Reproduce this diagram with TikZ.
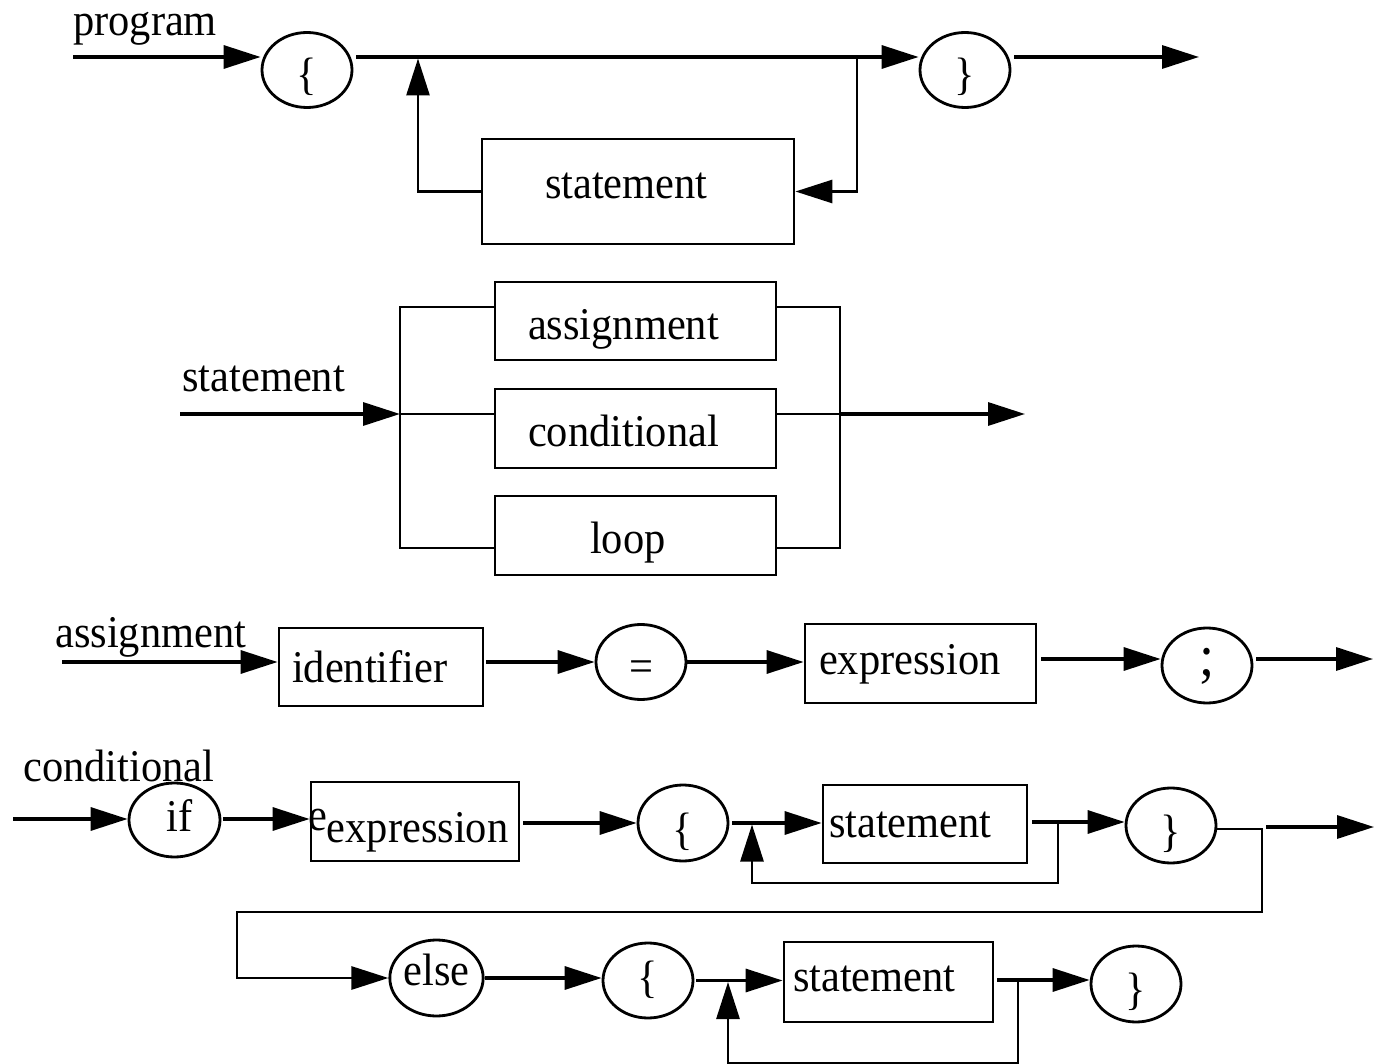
\documentclass[tikz,border=0pt]{standalone}
\usepackage{fontspec}
\setmainfont{Liberation Serif}[FakeStretch=0.935]
\usetikzlibrary{arrows.meta,shapes.geometric}
% box text of a fixed width, pushed right by a given amount
\newcommand{\padtext}[3]{\makebox[#1pt][l]{\hspace*{#2pt}#3}}
\begin{document}
\begin{tikzpicture}[x=1pt,y=-1pt,
  every node/.style={font=\fontsize{45.4}{52}\selectfont, inner sep=0pt},
  conn/.style={line width=3.3pt},
  arr/.style={conn, -{Triangle[length=37pt,width=23pt]}},
  thin/.style={line width=2.8pt},
  term/.style={ellipse, draw, line width=2.8pt, minimum width=90pt, minimum height=75pt, text depth=0pt},
  nterm/.style={rectangle, draw, line width=2.8pt, text depth=0pt},
  tag/.style={anchor=base west}]
\path[use as bounding box] (0,0) rectangle (1377,1064);

% ---------- program ----------
\node[tag] (tprog) at (73,36) {program};
\node[term, text height=40pt] (pl) at (307,70) {\{};
\node[term, text height=40pt] (pr) at (965,70) {\}};
\node[nterm, minimum height=105pt, text height=15pt] (st1) at (638,191.5) {\padtext{312}{63}{statement}};
\coordinate (pin) at (73,57);
\coordinate (pout) at (1199,57);
\coordinate (pjL) at (418,58.5);
\coordinate (pjR) at (857,57);
\draw[arr] (pin) -- (pl.west |- pin);
\draw[arr, shorten <=3pt] (pl.east |- pin) -- (pr.west |- pin);
\draw[arr, shorten <=3pt] (pr.east |- pin) -- (pout);
\draw[arr, thin] (pjR) |- (st1.east);
\draw[arr, thin] (st1.west) -| (pjL);

% ---------- statement ----------
\node[tag] (tstmt) at (182,392) {statement};
\node[nterm, minimum height=78pt, text height=38pt] (asg) at (635.5,321) {\padtext{281}{33}{assignment}};
\node[nterm, minimum height=79pt, text height=37pt] (cnd) at (635.5,428.5) {\padtext{281}{33}{conditional}};
\node[nterm, minimum height=79pt, text height=35pt] (lp) at (635.5,535.5) {\padtext{281}{95}{loop}};
\coordinate (sin) at (180,414);
\coordinate (sjL) at (400,414);
\coordinate (sjR) at (840,414);
\coordinate (sout) at (1025,414);
\draw[arr] (sin) -- (sjL);
\draw[thin] ([yshift=14pt]asg.west) -| (sjL) |- ([yshift=-12.5pt]lp.west);
\draw[thin] (sjL) -- ([yshift=14.5pt]cnd.west);
\draw[thin] ([yshift=14pt]asg.east) -| (sjR) |- ([yshift=-12.5pt]lp.east);
\draw[thin] ([yshift=14.5pt]cnd.east) -- (sjR);
\draw[arr] (sjR) -- (sout);

% ---------- assignment ----------
\node[tag] (tasg) at (55,647) {assignment};
\node[nterm, minimum height=78pt, text height=30pt] (idf) at (381,667) {\padtext{204}{13}{identifier}};
\node[term, text height=38pt] (eq) at (641,662) {=};
\node[nterm, minimum height=79pt, text height=21pt] (aex) at (920.5,663.5) {\padtext{231}{14}{expression}};
\node[term, text height=19pt, font=\fontsize{58}{60}\selectfont] (semi) at (1207,665.5) {;};
\coordinate (ain) at (62,662);
\coordinate (aout) at (1373,659);
\draw[arr] (ain) -- (idf.west |- ain);
\draw[arr, shorten <=2pt] (idf.east |- ain) -- (eq.west |- ain);
\draw[arr] (eq.east |- ain) -- (aex.west |- ain);
\draw[arr, shorten <=4pt] (aex.east |- aout) -- (semi.west |- aout);
\draw[arr, shorten <=3pt] (semi.east |- aout) -- (aout);

% ---------- conditional ----------
\node[tag] (tcond) at (23,781) {conditional};
\node[term, minimum width=91pt, minimum height=74pt, text height=22pt] (if) at (174.5,820) {\hspace*{10pt}if};
\node[nterm, minimum height=79pt, text height=41pt] (cex) at (415,821.5) {\padtext{208}{-3}{\raisebox{12pt}{e}expression}};
\node[term, minimum height=76pt, text height=42pt] (cl) at (683,823) {\{};
\node[nterm, minimum height=78pt, text height=26pt] (cst) at (925,824) {\padtext{204}{6}{statement}};
\node[term, text height=41pt] (cr) at (1171,825.5) {\}};
\node[term, minimum width=91pt, minimum height=76pt, text height=14pt] (else) at (436.5,978) {else};
\node[term, text height=23pt] (el) at (648,980.5) {\{};
\node[nterm, minimum height=80pt, text height=18pt] (est) at (888.5,982) {\padtext{209}{9}{statement}};
\node[term, minimum height=76pt, text height=40pt] (er) at (1136,984) {\}};

\coordinate (cin) at (13,819);
\coordinate (cm) at (0,823);
\coordinate (cjA) at (752,824.5);
\coordinate (cjB) at (1058,822);
\coordinate (cjC) at (1262,829);
\coordinate (cos) at (1266,827);
\coordinate (coe) at (1374,827);
\coordinate (cbot) at (0,883);
\coordinate (ejL) at (237,912);
\coordinate (ejA) at (728,982);
\coordinate (ejB) at (1018,980);
\coordinate (ebot) at (0,1063);

\draw[arr] (cin) -- (if.west |- cin);
\draw[arr, shorten <=2pt] (if.east |- cin) -- (cex.west |- cin);
\draw[arr, shorten <=3pt] (cex.east |- cm) -- (cl.west |- cm);
\draw[arr, shorten <=3pt] (cl.east) -- (cst.west |- cl.east);
\draw[arr, shorten <=4pt] (cst.east |- cjB) -- (cr.west |- cjB);
\draw[arr, thin] (cjB) |- (cjA |- cbot) -- (cjA);
\draw[arr, thin] (cr.east |- cjC) -- (cjC) |- (ejL) |- (else.west);
\draw[arr] (cos) -- (coe);
\draw[arr] (else.east) -- (el.west |- else.east);
\draw[arr, shorten <=2pt] (el.east) -- (est.west |- el.east);
\draw[arr, shorten <=3pt] (est.east |- ejB) -- (er.west |- ejB);
\draw[arr, thin] (ejB) |- (ejA |- ebot) -- (ejA);
\end{tikzpicture}
\end{document}
